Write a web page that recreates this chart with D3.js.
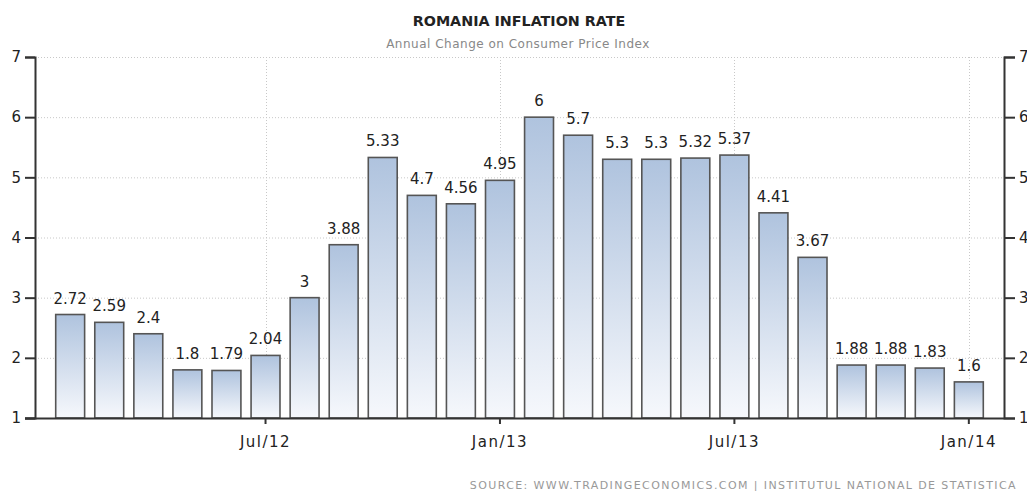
<!DOCTYPE html>
<html>
<head>
<meta charset="utf-8">
<script src="https://cdn.jsdelivr.net/npm/d3@7"></script>
<style>
  body { margin: 0; background: #fff; }
  text { font-family: "DejaVu Sans", Verdana, sans-serif; }
</style>
</head>
<body>
<script>
//monthly data, Feb 2012 .. Jan 2014
var months = ["2012-02","2012-03","2012-04","2012-05","2012-06","2012-07","2012-08","2012-09",
              "2012-10","2012-11","2012-12","2013-01","2013-02","2013-03","2013-04","2013-05",
              "2013-06","2013-07","2013-08","2013-09","2013-10","2013-11","2013-12","2014-01"];
var rates = [2.72, 2.59, 2.4, 1.8, 1.79, 2.04, 3, 3.88, 5.33, 4.7, 4.56, 4.95,
             6, 5.7, 5.3, 5.3, 5.32, 5.37, 4.41, 3.67, 1.88, 1.88, 1.83, 1.6];
var tickMonths = ["2012-07","2013-01","2013-07","2014-01"];
var tickLabels = ["Jul/12","Jan/13","Jul/13","Jan/14"];
var yTicks = [1, 2, 3, 4, 5, 6, 7];

window.onload = drawChart();

function drawChart(){
    var width = 1027,
        height = 491;
    var left = 35, right = 1004, top = 57, bottom = 418;

    var svg = d3.select("body")
        .append("svg")
        .attr("width", width)
        .attr("height", height);

    //gradient for the bars
    var grad = svg.append("defs").append("linearGradient")
        .attr("id", "barGrad")
        .attr("x1", 0).attr("y1", 0).attr("x2", 0).attr("y2", 1);
    grad.append("stop").attr("offset", "0%").attr("stop-color", "#afc3de");
    grad.append("stop").attr("offset", "100%").attr("stop-color", "#f6f8fc");

    var x = d3.scaleBand()
        .domain(months)
        .range([left, right])
        .paddingInner(0.26)
        .paddingOuter(0.53);

    var y = d3.scaleLinear()
        .domain([1, 7])
        .range([bottom, top]);

    //dotted grid
    svg.append("g").selectAll("line")
        .data(yTicks.slice(1))
        .enter()
        .append("line")
        .attr("x1", left).attr("x2", right)
        .attr("y1", function(d){ return y(d) + 0.5; })
        .attr("y2", function(d){ return y(d) + 0.5; })
        .attr("stroke", "#c8c8c8")
        .attr("stroke-dasharray", "1,2");

    svg.append("g").selectAll("line")
        .data(tickMonths)
        .enter()
        .append("line")
        .attr("x1", function(d){ return Math.round(x(d) + x.bandwidth() / 2) + 0.5; })
        .attr("x2", function(d){ return Math.round(x(d) + x.bandwidth() / 2) + 0.5; })
        .attr("y1", top).attr("y2", bottom)
        .attr("stroke", "#c8c8c8")
        .attr("stroke-dasharray", "1,2");

    //bars
    svg.append("g").selectAll("rect")
        .data(rates)
        .enter()
        .append("rect")
        .attr("x", function(d, i){ return x(months[i]); })
        .attr("y", function(d){ return y(d); })
        .attr("width", x.bandwidth())
        .attr("height", function(d){ return bottom - y(d); })
        .attr("fill", "url(#barGrad)")
        .attr("stroke", "#555")
        .attr("stroke-width", 1.6);

    //value labels
    svg.append("g").selectAll("text")
        .data(rates)
        .enter()
        .append("text")
        .attr("x", function(d, i){ return x(months[i]) + x.bandwidth() / 2; })
        .attr("y", function(d){ return y(d) - 11; })
        .attr("text-anchor", "middle")
        .attr("font-size", 15)
        .attr("fill", "#222")
        .text(function(d){ return d; });

    //axes
    var yLeft = d3.axisLeft(y).tickValues(yTicks).tickSize(10).tickFormat(d3.format("d"));
    var yRight = d3.axisRight(y).tickValues(yTicks).tickSize(11).tickFormat(d3.format("d"));
    var xAxis = d3.axisBottom(x)
        .tickValues(tickMonths)
        .tickSize(5)
        .tickFormat(function(d){ return tickLabels[tickMonths.indexOf(d)]; });

    var gl = svg.append("g").attr("transform", "translate(" + left + ",0)").call(yLeft);
    var gr = svg.append("g").attr("transform", "translate(" + right + ",0)").call(yRight);
    var gx = svg.append("g").attr("transform", "translate(0," + bottom + ")").call(xAxis);

    [gl, gr, gx].forEach(function(g){
        g.select(".domain").attr("stroke", "#333").attr("stroke-width", 2);
        g.selectAll(".tick line").attr("stroke", "#333").attr("stroke-width", 2);
        g.selectAll(".tick text")
            .attr("fill", "#222")
            .attr("font-size", 15)
            .attr("font-family", "DejaVu Sans, sans-serif");
    });
    gl.selectAll(".tick text").attr("x", -14);
    gr.selectAll(".tick text").attr("x", 15);
    gx.selectAll(".tick line").attr("y2", 6);
    gx.selectAll(".tick text").attr("y", 18).attr("letter-spacing", 1.5);
    gx.select(".domain").attr("d", "M" + (left - 10) + ",0.5H" + right);

    //titles
    svg.append("text")
        .attr("x", 519).attr("y", 26)
        .attr("text-anchor", "middle")
        .attr("font-size", 14.3)
        .attr("font-weight", "bold")
        .attr("fill", "#222")
        .text("ROMANIA INFLATION RATE");

    svg.append("text")
        .attr("x", 518).attr("y", 48)
        .attr("text-anchor", "middle")
        .attr("font-size", 12)
        .attr("letter-spacing", 0.5)
        .attr("fill", "#888")
        .text("Annual Change on Consumer Price Index");

    svg.append("text")
        .attr("x", 1017).attr("y", 489)
        .attr("text-anchor", "end")
        .attr("font-size", 11)
        .attr("letter-spacing", 1.4)
        .attr("fill", "#999")
        .text("SOURCE:  WWW.TRADINGECONOMICS.COM  |  INSTITUTUL  NATIONAL  DE  STATISTICA");
}
</script>
</body>
</html>
